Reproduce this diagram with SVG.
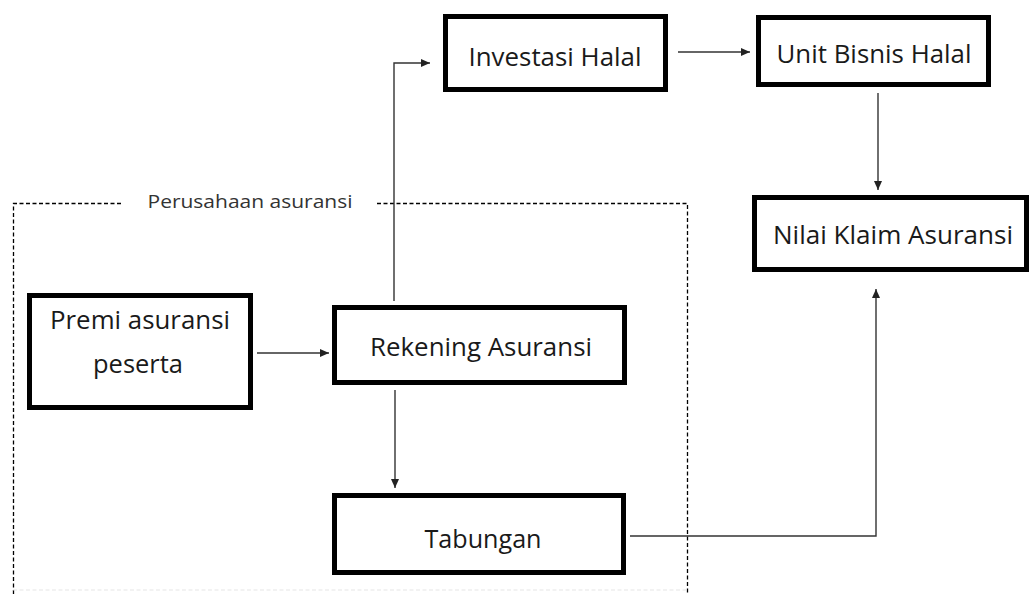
<svg xmlns="http://www.w3.org/2000/svg" width="1030" height="594" viewBox="0 0 1030 594">
<defs>
<marker id="ah" markerWidth="10" markerHeight="8" refX="9" refY="4" orient="auto" markerUnits="userSpaceOnUse">
<path d="M0,0 L9,4 L0,8 z" fill="#222"/>
</marker>
<style>
.box{fill:#fff;stroke:#000;stroke-width:5}
.lbl{font-family:"Open Sans","Liberation Sans",sans-serif;font-size:26px;fill:#1a1a1a;text-anchor:middle}
.small{font-family:"Open Sans","Liberation Sans",sans-serif;font-size:19px;fill:#333;text-anchor:middle}
.con{fill:none;stroke:#333;stroke-width:1.4}
.dash{fill:none;stroke:#000;stroke-width:1.3;stroke-dasharray:4 2.5}
</style>
</defs>
<rect width="1030" height="594" fill="#fff"/>
<g id="container">
<path class="dash" d="M13.5,594 V203.5 H123"/>
<path class="dash" d="M377,203.5 H687.5 V594"/>
<path d="M13,590 H687" fill="none" stroke="#e6e6e6" stroke-width="1.2" stroke-dasharray="4 2.5"/>
<text class="small" x="250" y="208" textLength="205" lengthAdjust="spacingAndGlyphs">Perusahaan asuransi</text>
</g>
<g id="connectors">
<line class="con" x1="257" y1="353" x2="329" y2="353" marker-end="url(#ah)"/>
<polyline class="con" points="394,301 394,63 430,63" marker-end="url(#ah)"/>
<line class="con" x1="395" y1="390" x2="395" y2="488" marker-end="url(#ah)"/>
<line class="con" x1="678" y1="52" x2="750" y2="52" marker-end="url(#ah)"/>
<line class="con" x1="878" y1="93" x2="878" y2="190" marker-end="url(#ah)"/>
<polyline class="con" points="630,536 876,536 876,289" marker-end="url(#ah)"/>
</g>
<g id="premi">
<rect class="box" x="29.5" y="295.5" width="221" height="112"/>
<text class="lbl" x="140" y="329" textLength="180" lengthAdjust="spacingAndGlyphs">Premi asuransi</text>
<text class="lbl" x="138" y="373" textLength="90" lengthAdjust="spacingAndGlyphs">peserta</text>
</g>
<g id="rekening">
<rect class="box" x="334.5" y="307.5" width="290" height="75"/>
<text class="lbl" x="481" y="356" textLength="222" lengthAdjust="spacingAndGlyphs">Rekening Asuransi</text>
</g>
<g id="tabungan">
<rect class="box" x="334.5" y="495.5" width="289" height="77"/>
<text class="lbl" x="483" y="548" textLength="117" lengthAdjust="spacingAndGlyphs">Tabungan</text>
</g>
<g id="investasi">
<rect class="box" x="445.5" y="16.5" width="220" height="73"/>
<text class="lbl" x="555" y="66" textLength="173" lengthAdjust="spacingAndGlyphs">Investasi Halal</text>
</g>
<g id="unit">
<rect class="box" x="758.5" y="17.5" width="230" height="67"/>
<text class="lbl" x="874" y="63" textLength="195" lengthAdjust="spacingAndGlyphs">Unit Bisnis Halal</text>
</g>
<g id="nilai">
<rect class="box" x="754.5" y="197.5" width="272" height="72"/>
<text class="lbl" x="893" y="244" textLength="240" lengthAdjust="spacingAndGlyphs">Nilai Klaim Asuransi</text>
</g>
</svg>
